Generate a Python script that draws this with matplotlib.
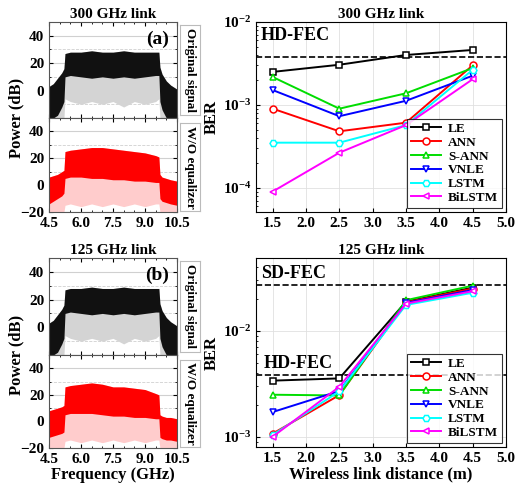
import matplotlib
matplotlib.use("Agg")
import matplotlib.pyplot as plt
import numpy as np
from matplotlib.ticker import LogLocator, NullFormatter, MultipleLocator

plt.rcParams['font.family'] = ['Liberation Serif', 'DejaVu Serif']
plt.rcParams['font.weight'] = 'bold'
plt.rcParams['mathtext.fontset'] = 'custom'
plt.rcParams['mathtext.rm'] = 'Liberation Serif:bold'
plt.rcParams['mathtext.it'] = 'Liberation Serif:bold'
plt.rcParams['mathtext.bf'] = 'Liberation Serif:bold'
plt.rcParams['mathtext.default'] = 'bf'

# spectrum envelopes (GHz, dB)
freq = [4.5, 4.7, 4.9, 5.1, 5.2, 5.25, 5.5, 6.0, 6.5, 7.0, 7.5, 8.0, 8.5, 9.0, 9.5, 9.65, 9.7, 9.8, 10.0, 10.2, 10.5]
orig_top = [3, 5, 9, 13, 16, 27, 28, 28, 29, 28, 28, 29, 28, 28, 28, 28, 17, 12, 7, 4, 1]
orig_body = [-20, -20, -18, -12, -8, 10, 11, 10, 9, 10, 9, 10, 9, 10, 11, 11, -8, -14, -20, -20, -20]
orig_dip = [-20, -20, -20, -20, -20, -6, -8, -10, -8, -10, -8, -12, -8, -10, -8, -6, -20, -20, -20, -20, -20]

red300_top = [6, 7, 8, 10, 11, 25, 26, 27, 28, 28, 27, 26, 25, 24, 22, 21, 8, 6, 5, 4, 3]
red300_body = [-14, -12, -10, -8, -6, 5, 6, 6, 5, 5, 4, 4, 3, 3, 2, 2, -10, -12, -13, -14, -15]
red300_dip = [-20, -20, -20, -20, -20, -15, -14, -16, -14, -16, -14, -16, -14, -16, -14, -14, -20, -20, -20, -20, -20]

red125_top = [8, 9, 10, 11, 12, 26, 27, 28, 29, 28, 26, 26, 25, 24, 21, 20, 5, 4, 3, 3, 2]
red125_body = [-12, -11, -10, -9, -8, 5, 6, 6, 6, 5, 4, 4, 3, 3, 2, 2, -12, -13, -14, -14, -15]
red125_dip = [-20, -20, -20, -20, -20, -15, -14, -16, -14, -16, -14, -16, -14, -16, -14, -14, -20, -20, -20, -20, -20]

# BER vs distance
dist = [1.5, 2.5, 3.5, 4.5]
labels = ['LE', 'ANN', 'S-ANN', 'VNLE', 'LSTM', 'BiLSTM']
colors = ['black', 'red', '#00dd00', 'blue', 'cyan', 'magenta']
markers = ['s', 'o', '^', 'v', 'H', '<']
ber300 = [
    [2.5e-3, 3.05e-3, 4.0e-3, 4.6e-3],
    [9.0e-4, 4.8e-4, 6.1e-4, 3.0e-3],
    [2.17e-3, 9.0e-4, 1.38e-3, 2.78e-3],
    [1.51e-3, 7.3e-4, 1.12e-3, 2.25e-3],
    [3.5e-4, 3.5e-4, 5.7e-4, 2.65e-3],
    [9.0e-5, 2.65e-4, 5.7e-4, 2.04e-3],
]
ber125 = [
    [3.38e-3, 3.55e-3, 1.88e-2, 2.55e-2],
    [1.07e-3, 2.47e-3, 1.85e-2, 2.5e-2],
    [2.49e-3, 2.45e-3, 1.94e-2, 2.66e-2],
    [1.71e-3, 2.7e-3, 1.83e-2, 2.42e-2],
    [1.04e-3, 2.68e-3, 1.75e-2, 2.28e-2],
    [1.0e-3, 2.96e-3, 1.8e-2, 2.36e-2],
]
hd_fec = 3.8e-3
sd_fec = 2.7e-2

W, H = 516, 491
fig = plt.figure(figsize=(W / 100, H / 100), dpi=100)


def box(x0, x1, y0, y1):
    return [x0 / W, 1 - y1 / H, (x1 - x0) / W, (y1 - y0) / H]


def spectrum(ax, top, body, dip, dark, light):
    ax.fill_between(freq, dip, top, color=light, lw=0)
    ax.fill_between(freq, body, top, color=dark, lw=0)
    ax.set_xlim(4.5, 10.5)
    ax.set_ylim(-20, 50)
    ax.yaxis.set_major_locator(MultipleLocator(20))
    ax.yaxis.set_minor_locator(MultipleLocator(10))
    ax.xaxis.set_major_locator(MultipleLocator(1.5))
    ax.xaxis.set_minor_locator(MultipleLocator(0.5))
    ax.grid(True, which='major', color='#d0d0d0', lw=0.8)
    ax.grid(True, which='minor', axis='y', color='#d0d0d0', lw=0.6, ls='--')
    ax.grid(False, which='both', axis='x')
    ax.set_axisbelow(True)
    ax.tick_params(which='both', direction='in', top=True, right=True, labelsize=11, length=3)
    ax.tick_params(which='minor', length=1.5)
    for s in ax.spines.values():
        s.set_color('#555555')


def strip(x0, x1, y0, y1, text):
    sa = fig.add_axes(box(x0, x1, y0, y1))
    sa.set_xticks([])
    sa.set_yticks([])
    for s in sa.spines.values():
        s.set_color('#bbbbbb')
    sa.text(0.5, 0.5, text, rotation=-90, ha='center', va='center',
            fontsize=9.5, fontweight='bold', transform=sa.transAxes)


def left_block(ytop, ymid, ybot, red_top, red_body, red_dip, title, tag, xlabel):
    a1 = fig.add_axes(box(49, 177, ytop, ymid))
    spectrum(a1, orig_top, orig_body, orig_dip, '#111111', '#d4d4d4')
    a1.set_yticks([0, 20, 40])
    a1.tick_params(labelbottom=False)
    a1.set_title(title, fontsize=11, fontweight='bold', pad=3)
    a1.text(0.94, 0.82, tag, transform=a1.transAxes, ha='right', va='center',
            fontsize=14, fontweight='bold')
    a2 = fig.add_axes(box(49, 177, ymid, ybot))
    spectrum(a2, red_top, red_body, red_dip, 'red', '#ffcccc')
    a2.set_yticks([-20, 0, 20, 40])
    a2.set_yticklabels(['\u221220', '0', '20', '40'])
    a2.set_xticks([4.5, 6.0, 7.5, 9.0, 10.5])
    if xlabel:
        a2.set_xlabel('Frequency (GHz)', fontsize=12, fontweight='bold', labelpad=1)
    strip(180, 200, ytop + 3, ymid - 3, 'Original signal')
    strip(180, 200, ymid + 5, ybot - 1, 'W/O equalizer')
    fig.text(16 / W, 1 - ymid / H, 'Power (dB)', rotation=90, ha='center', va='center',
             fontsize=12, fontweight='bold')


def ber_panel(ytop, ybot, data, ylim, title, xlabel):
    ax = fig.add_axes(box(256, 506, ytop, ybot))
    for lab, c, m, vals in zip(labels, colors, markers, data):
        ax.plot(dist, vals, color=c, marker=m, mfc='white', mec=c, ms=5, mew=1.1,
                lw=1.4, label=lab)
    ax.set_yscale('log')
    ax.set_xlim(1.25, 5.0)
    ax.set_ylim(*ylim)
    ax.set_xticks([1.5, 2.0, 2.5, 3.0, 3.5, 4.0, 4.5, 5.0])
    ax.yaxis.set_minor_locator(LogLocator(base=10, subs=np.arange(2, 10)))
    ax.yaxis.set_minor_formatter(NullFormatter())
    ax.grid(True, which='major', color='#e0e0e0', lw=0.6)
    ax.set_axisbelow(True)
    ax.tick_params(which='both', direction='in', labelsize=11, length=3)
    ax.tick_params(which='minor', length=1.5)
    ax.set_title(title, fontsize=11, fontweight='bold', pad=3)
    ax.set_ylabel('BER', fontsize=12, fontweight='bold', labelpad=2)
    if xlabel:
        ax.set_xlabel('Wireless link distance (m)', fontsize=12, fontweight='bold', labelpad=1)
    leg = ax.legend(loc='lower right', fontsize=9.5, frameon=True, fancybox=False,
                    edgecolor='black', handlelength=2.3, borderpad=0.3, labelspacing=0.12,
                    handletextpad=0.5, borderaxespad=0.3)
    leg.get_frame().set_linewidth(0.8)
    for t in leg.get_texts():
        t.set_fontweight('bold')
    return ax


left_block(22, 118, 212, red300_top, red300_body, red300_dip, '300 GHz link', '(a)', False)
left_block(258, 355, 448, red125_top, red125_body, red125_dip, '125 GHz link', '(b)', True)

ax1 = ber_panel(22, 212, ber300, (5.1e-5, 1e-2), '300 GHz link', False)
ax1.axhline(hd_fec, color='black', ls='--', lw=1.2, zorder=1)
ax1.text(0.02, 0.93, 'HD-FEC', transform=ax1.transAxes, fontsize=13, fontweight='bold',
         ha='left', va='center')

ax2 = ber_panel(258, 447, ber125, (8.0e-4, 4.85e-2), '125 GHz link', True)
ax2.axhline(hd_fec, color='black', ls='--', lw=1.2, zorder=1)
ax2.axhline(sd_fec, color='black', ls='--', lw=1.2, zorder=1)
ax2.text(0.02, 0.92, 'SD-FEC', transform=ax2.transAxes, fontsize=13, fontweight='bold',
         ha='left', va='center')
ax2.text(0.03, 0.44, 'HD-FEC', transform=ax2.transAxes, fontsize=13, fontweight='bold',
         ha='left', va='center')

fig.savefig('out.png', dpi=100)
